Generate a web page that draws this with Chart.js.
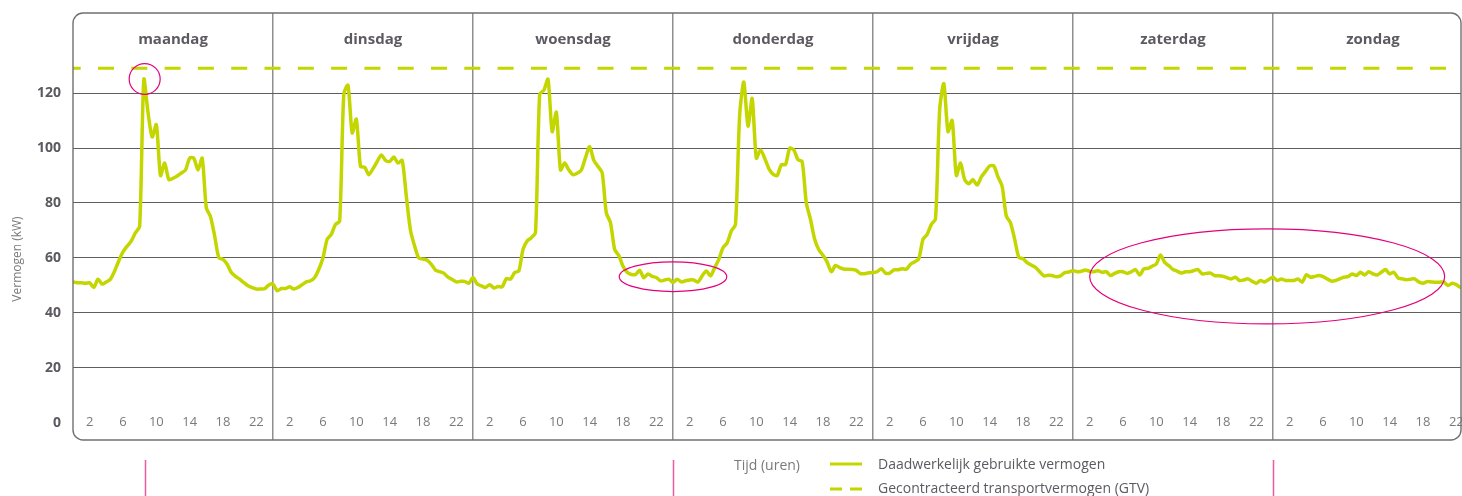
<!DOCTYPE html>
<html lang="nl">
<head>
<meta charset="utf-8">
<title>Vermogen per dag</title>
<script src="https://cdn.jsdelivr.net/npm/chart.js@4"></script>
<style>
  html, body { margin: 0; padding: 0; background: #fff; }
  #wrap { position: relative; width: 1462px; height: 496px; }
</style>
</head>
<body>
<div id="wrap"><canvas id="lineChart"></canvas></div>
<script>
// kolommen: de dagen van de week
const dagen = ['maandag', 'dinsdag', 'woensdag', 'donderdag', 'vrijdag', 'zaterdag', 'zondag']
// uren die onder elke dag staan
const uurLabels = [2, 6, 10, 14, 18, 22]
// labels op de y-as (kW)
const kwTicks = [0, 20, 40, 60, 80, 100, 120]
// gecontracteerd transportvermogen (kW)
const gtv = 129
// de week loopt tot ongeveer 22:40 op zondag
const laatsteUur = 166.56

// gemeten vermogen per half uur (kW), 00:00 t/m 23:30
const maandag = [51.3, 51.0, 51.0, 50.8, 51.0, 49.3, 52.3, 50.5, 51.3, 52.3, 55.3, 59.0, 62.2, 64.3, 66.2, 69.2,
    71.6, 125.0, 113.0, 104.0, 108.5, 90.0, 94.5, 88.5, 89.0, 89.8, 90.9, 92.0, 96.3, 96.3, 92.0, 96.3,
    78.2, 75.0, 68.0, 60.1, 59.5, 57.7, 54.7, 53.3, 52.3, 51.0, 49.9, 49.2, 48.7, 48.7, 48.8, 50.2]
const dinsdag = [50.5, 48.1, 48.9, 48.9, 49.5, 48.7, 49.3, 50.3, 51.3, 51.7, 52.9, 55.9, 60.1, 66.8, 68.6, 72.2,
    73.4, 119.8, 122.8, 105.5, 110.5, 93.3, 93.0, 90.3, 92.5, 95.1, 97.5, 95.5, 95.1, 96.7, 94.5, 95.5,
    82.4, 70.0, 64.3, 60.0, 59.6, 59.2, 57.7, 55.6, 55.0, 54.5, 53.0, 52.2, 51.3, 51.5, 51.5, 50.8]
const woensdag = [52.9, 50.5, 49.9, 49.3, 50.3, 49.1, 49.6, 49.5, 52.5, 52.3, 54.7, 55.3, 63.1, 66.2, 67.4, 69.2,
    119.5, 121.0, 125.0, 106.0, 113.0, 92.0, 94.5, 92.0, 90.3, 90.8, 92.0, 96.5, 100.5, 95.5, 93.3, 91.0,
    76.4, 72.8, 63.1, 60.9, 57.0, 54.8, 54.0, 54.0, 55.5, 52.8, 54.2, 53.3, 52.9, 51.7, 52.0, 52.3]
const donderdag = [51.1, 52.3, 51.3, 51.7, 52.0, 52.0, 51.3, 53.5, 55.3, 53.5, 56.5, 59.5, 63.7, 65.5, 69.8, 72.2,
    112.0, 124.0, 108.0, 118.0, 96.3, 99.3, 96.3, 92.5, 90.5, 90.0, 93.9, 94.0, 99.9, 99.3, 95.7, 95.1,
    80.0, 74.0, 66.8, 63.0, 61.0, 58.5, 55.0, 57.3, 56.5, 56.0, 55.9, 55.8, 55.5, 54.3, 54.3, 54.6]
const vrijdag = [54.7, 55.0, 56.1, 54.5, 54.5, 55.7, 55.7, 56.1, 55.9, 57.7, 58.6, 59.8, 66.8, 68.6, 72.2, 74.2,
    114.0, 123.4, 106.0, 110.0, 90.0, 94.5, 88.5, 87.0, 88.5, 86.5, 89.5, 91.5, 93.5, 93.5, 89.5, 86.0,
    75.2, 72.8, 66.8, 60.2, 59.7, 58.3, 57.4, 56.6, 55.0, 53.5, 53.7, 53.6, 53.2, 53.5, 54.7, 54.9]
const zaterdag = [55.4, 55.0, 55.2, 55.6, 55.2, 55.0, 55.4, 54.8, 55.0, 53.6, 54.4, 55.0, 55.0, 54.4, 55.0, 55.8,
    53.8, 56.0, 56.2, 57.0, 57.8, 61.1, 58.4, 57.2, 55.8, 55.2, 54.5, 55.0, 55.0, 55.4, 55.8, 54.2,
    54.4, 54.5, 53.6, 53.5, 53.3, 52.8, 52.4, 53.0, 51.8, 52.0, 52.4, 51.5, 50.8, 51.8, 51.3, 52.2]
const zondag = [53.0, 51.8, 52.4, 51.8, 51.8, 51.8, 52.4, 51.2, 53.9, 53.0, 53.3, 53.6, 53.2, 52.4, 51.6, 51.8,
    52.4, 53.0, 53.2, 54.2, 53.6, 54.8, 53.8, 55.0, 54.2, 53.8, 54.8, 55.8, 54.2, 54.8, 52.8, 52.4,
    52.1, 52.3, 52.4, 51.3, 50.8, 51.4, 51.3, 51.2, 51.2, 51.2, 50.0, 50.8, 50.3, 49.3, 49.5, 49.5]

// omcirkelde momenten: midden (uur in de week, kW) en halve breedte/hoogte (uren, kW)
const markeringUur = [8.6, 72.0, 143.3]
const markeringKw = [125.1, 53.2, 53.3]
const markeringBreedte = [1.86, 6.45, 21.3]
const markeringHoogte = [5.6, 5.4, 17.3]
// roze verwijslijnen onder de grafiek (uur in de week)
const verwijsUren = [8.6, 72.0, 144.0]

const week = [maandag, dinsdag, woensdag, donderdag, vrijdag, zaterdag, zondag]
const gemeten = []
week.forEach((dag, d) => {
    dag.forEach((kw, i) => gemeten.push({ x: d * 24 + i * 0.5, y: kw }))
})

const lime = '#c3d600'
const roze = '#e4007c'

Chart.defaults.font.family = '"Open Sans", sans-serif'

function kaderPad(ctx, l, t, r, b, rad) {
    ctx.beginPath()
    ctx.moveTo(l + rad, t)
    ctx.lineTo(r - rad, t)
    ctx.arcTo(r, t, r, t + rad, rad)
    ctx.lineTo(r, b - rad)
    ctx.arcTo(r, b, r - rad, b, rad)
    ctx.lineTo(l + rad, b)
    ctx.arcTo(l, b, l, b - rad, rad)
    ctx.lineTo(l, t + rad)
    ctx.arcTo(l, t, l + rad, t, rad)
    ctx.closePath()
}

const kader = {
    id: 'kader',
    beforeDatasetsDraw(chart) {
        const { ctx, chartArea: a, scales: { x, y } } = chart
        ctx.save()
        ctx.textAlign = 'center'
        ctx.textBaseline = 'middle'
        // dagnamen
        ctx.font = 'bold 15px "Open Sans"'
        ctx.fillStyle = '#5d5960'
        dagen.forEach((dag, i) => ctx.fillText(dag, x.getPixelForValue(i * 24 + 12), a.top + 27))
        // uren
        ctx.font = '13px "Open Sans"'
        ctx.fillStyle = '#7a7a7a'
        dagen.forEach((dag, i) => {
            uurLabels.forEach(u => {
                const px = x.getPixelForValue(i * 24 + u)
                if (px < a.right - 4) ctx.fillText(String(u), px, y.getPixelForValue(0) - 1)
            })
        })
        ctx.restore()
    },
    afterDatasetsDraw(chart) {
        const { ctx, scales: { x, y } } = chart
        ctx.save()
        ctx.strokeStyle = roze
        ctx.lineWidth = 1.2
        markeringUur.forEach((u, i) => {
            const cx = x.getPixelForValue(u)
            const cy = y.getPixelForValue(markeringKw[i])
            const rx = x.getPixelForValue(u + markeringBreedte[i]) - cx
            const ry = cy - y.getPixelForValue(markeringKw[i] + markeringHoogte[i])
            ctx.beginPath()
            ctx.ellipse(cx, cy, rx, ry, 0, 0, Math.PI * 2)
            ctx.stroke()
        })
        ctx.restore()
    },
    afterDraw(chart) {
        const { ctx, chartArea: a, scales: { x } } = chart
        ctx.save()
        // kader om de grafiek
        ctx.strokeStyle = '#707070'
        ctx.lineWidth = 1.4
        kaderPad(ctx, a.left, a.top, a.right, a.bottom, 10)
        ctx.stroke()

        // titel y-as
        ctx.save()
        ctx.translate(18, 259)
        ctx.rotate(-Math.PI / 2)
        ctx.font = '12px "Open Sans"'
        ctx.fillStyle = '#7a7a7a'
        ctx.textAlign = 'center'
        ctx.textBaseline = 'middle'
        ctx.fillText('Vermogen (kW)', 0, 0)
        ctx.restore()

        // roze verwijslijnen
        ctx.strokeStyle = '#ea5aa0'
        ctx.lineWidth = 1.5
        verwijsUren.forEach(u => {
            const px = Math.round(x.getPixelForValue(u)) + 0.5
            ctx.beginPath()
            ctx.moveTo(px, a.bottom + 20)
            ctx.lineTo(px, chart.height)
            ctx.stroke()
        })

        // legenda
        ctx.textBaseline = 'middle'
        ctx.font = '14px "Open Sans"'
        ctx.fillStyle = '#7a7a7a'
        ctx.textAlign = 'right'
        ctx.fillText('Tijd (uren)', 800, 466)

        ctx.strokeStyle = lime
        ctx.lineWidth = 3
        ctx.beginPath()
        ctx.moveTo(830, 464)
        ctx.lineTo(862, 464)
        ctx.stroke()
        ctx.setLineDash([12, 8])
        ctx.beginPath()
        ctx.moveTo(830, 489)
        ctx.lineTo(862, 489)
        ctx.stroke()
        ctx.setLineDash([])

        ctx.font = '14px "Open Sans"'
        ctx.fillStyle = '#5d5960'
        ctx.textAlign = 'left'
        ctx.fillText('Daadwerkelijk gebruikte vermogen', 878, 465)
        ctx.fillText('Gecontracteerd transportvermogen (GTV)', 878, 489)
        ctx.restore()
    }
}

new Chart(document.getElementById('lineChart'), {
    type: 'line',
    data: {
        datasets: [
            {
                label: 'Daadwerkelijk gebruikte vermogen',
                data: gemeten,
                borderColor: lime,
                borderWidth: 3.5,
                pointRadius: 0,
                tension: 0.25,
                fill: false
            },
            {
                label: 'Gecontracteerd transportvermogen (GTV)',
                data: [{ x: 0, y: gtv }, { x: laatsteUur, y: gtv }],
                borderColor: lime,
                borderWidth: 3,
                borderDash: [16, 17.3],
                borderDashOffset: 8.3,
                pointRadius: 0,
                fill: false
            }
        ]
    },
    options: {
        responsive: true,
        maintainAspectRatio: false,
        animation: false,
        layout: { padding: { top: 13, right: 1, bottom: 56, left: 0 } },
        plugins: {
            legend: { display: false },
            tooltip: { enabled: false }
        },
        scales: {
            x: {
                type: 'linear',
                min: 0,
                max: laatsteUur,
                afterBuildTicks: s => { s.ticks = dagen.map((d, i) => ({ value: i * 24 })) },
                afterFit: s => { s.height = 0; s.paddingLeft = 0; s.paddingRight = 0 },
                ticks: { display: false },
                border: { display: false },
                grid: {
                    drawTicks: false,
                    lineWidth: 1.5,
                    color: c => c.tick && c.tick.value === 0 ? 'rgba(0,0,0,0)' : '#8f8f8f'
                }
            },
            y: {
                min: -6.2,
                max: 149.1,
                afterBuildTicks: s => { s.ticks = kwTicks.map(v => ({ value: v })) },
                afterFit: s => { s.width = 73; s.paddingTop = 0; s.paddingBottom = 0 },
                border: { display: false },
                grid: {
                    drawTicks: false,
                    lineWidth: 1,
                    color: c => c.tick && c.tick.value === 0 ? 'rgba(0,0,0,0)' : '#5e5e5e'
                },
                ticks: {
                    padding: 12,
                    color: '#5d5960',
                    font: { size: 14, weight: 'bold' }
                }
            }
        }
    },
    plugins: [kader]
})
</script>
</body>
</html>
